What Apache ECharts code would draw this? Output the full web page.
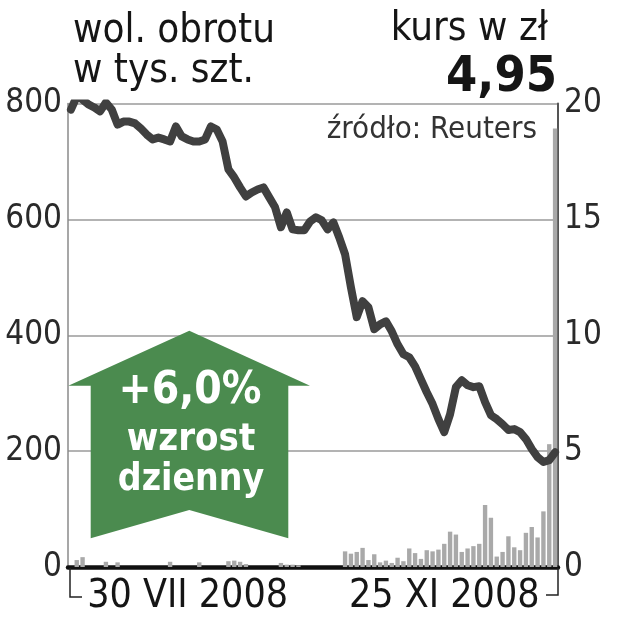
<!DOCTYPE html>
<html><head><meta charset="utf-8">
<script src="https://cdn.jsdelivr.net/npm/echarts@6/dist/echarts.min.js"></script>
<style>html,body{margin:0;padding:0;background:#fff}#c{width:636px;height:640px}</style>
</head><body><div id="c"></div>
<script>
// kurs w zł (price)
const price = [19.74,20.30,20.17,19.96,19.83,19.66,20.04,19.74,19.09,19.22,
 19.22,19.14,18.92,18.66,18.45,18.53,18.45,18.36,19.01,18.58,
 18.45,18.36,18.36,18.45,19.01,18.88,18.36,17.16,16.81,16.38,
 15.99,16.16,16.29,16.38,15.95,15.52,14.66,15.30,14.57,14.53,
 14.53,14.91,15.09,14.96,14.57,14.87,14.22,13.49,12.07,10.78,
 11.47,11.21,10.26,10.47,10.60,10.17,9.61,9.18,9.05,8.66,
 8.10,7.54,7.03,6.38,5.82,6.59,7.76,8.06,7.84,7.76,
 7.80,7.11,6.55,6.38,6.16,5.91,5.95,5.82,5.52,5.09,
 4.74,4.53,4.61,4.95];
// wolumen obrotu w tys. szt.
const volume = [0,12,17,0,0,0,9,0,8,0,
 0,0,0,0,0,0,0,9,0,0,
 0,0,8,0,0,0,0,10,11,9,
 5,0,0,0,0,0,7,4,4,3,
 0,0,0,0,0,0,0,27,23,26,
 33,12,22,8,11,7,16,10,32,24,
 14,29,27,30,40,61,56,26,32,36,
 40,107,85,18,26,53,34,29,59,69,
 51,96,212,757];
const tickLabels = ['30 VII 2008', '25 XI 2008'];
const tickIndex = [20, 64];
const volTicks = [0, 200, 400, 600, 800];
const priceTicks = [0, 5, 10, 15, 20];
const lastPrice = '4,95';
const change = '+6,0%';

const categories = price.map((_, i) => 'd' + i);
const FONT = '"DejaVu Sans Condensed", "DejaVu Sans", sans-serif';
const chart = echarts.init(document.getElementById('c'), null, {renderer: 'canvas'});
chart.setOption({
  animation: false,
  grid: {left: 68, right: 78, top: 103.5, bottom: 73},
  xAxis: {
    type: 'category', data: categories, boundaryGap: true,
    axisLine: {show: true, lineStyle: {color: '#111', width: 4.5}},
    axisTick: {show: false},
    axisLabel: {
      interval: (idx) => tickIndex.indexOf(idx) >= 0,
      formatter: (v, idx) => { const k = tickIndex.indexOf(idx); return k >= 0 ? tickLabels[k] : ''; },
      fontFamily: FONT, fontSize: 39, color: '#151515', margin: 10, lineHeight: 39
    },
    splitLine: {show: false}
  },
  yAxis: [
    {type: 'value', min: volTicks[0], max: volTicks[volTicks.length - 1], interval: 200, position: 'left',
     axisLine: {show: true, lineStyle: {color: '#8a8a8a', width: 1.5}},
     axisTick: {show: false},
     axisLabel: {fontFamily: FONT, fontSize: 33, color: '#2a2a2a', margin: 6},
     splitLine: {show: true, lineStyle: {color: '#9a9a9a', width: 1.5}}},
    {type: 'value', min: priceTicks[0], max: priceTicks[priceTicks.length - 1], interval: 5, position: 'right',
     axisLine: {show: true, lineStyle: {color: '#555', width: 2}},
     axisTick: {show: false},
     axisLabel: {fontFamily: FONT, fontSize: 33, color: '#2a2a2a', margin: 6},
     splitLine: {show: false}}
  ],
  series: [
    {type: 'bar', yAxisIndex: 0, data: volume, barWidth: '75%',
     itemStyle: {color: '#a9a9a9'}, z: 2},
    {type: 'line', yAxisIndex: 1, data: price, symbol: 'none', z: 3,
     lineStyle: {color: '#404040', width: 8, cap: 'round', join: 'round'}}
  ],
  graphic: [
    {type: 'text', x: 73, y: 32, z: 10, style: {text: 'wol. obrotu', font: '40px ' + FONT, fill: '#151515', verticalAlign: 'middle'}},
    {type: 'text', x: 73, y: 72, z: 10, style: {text: 'w tys. szt.', font: '40px ' + FONT, fill: '#151515', verticalAlign: 'middle'}},
    {type: 'text', x: 548, y: 30, z: 10, style: {text: 'kurs w zł', font: '40px ' + FONT, fill: '#151515', align: 'right', verticalAlign: 'middle'}},
    {type: 'text', x: 557, y: 78, z: 10, style: {text: lastPrice, font: 'bold 50px ' + FONT, fill: '#151515', align: 'right', verticalAlign: 'middle'}},
    {type: 'text', x: 537, y: 130, z: 10, style: {text: 'źródło: Reuters', font: '31px ' + FONT, fill: '#333', align: 'right', verticalAlign: 'middle'}},
    {type: 'polygon', z: 20, shape: {points: [[189.3,330.7],[310,385.7],[288.3,385.7],[288.3,538.3],[189.3,510],[90.7,538.3],[90.7,385.7],[68.3,385.7]]},
     style: {fill: '#4b8b4f'}},
    {type: 'text', x: 190, y: 392, z: 21, style: {text: change, font: 'bold 44px ' + FONT, fill: '#fff', align: 'center', verticalAlign: 'middle'}},
    {type: 'text', x: 191, y: 440, z: 21, style: {text: 'wzrost', font: 'bold 38px ' + FONT, fill: '#fff', align: 'center', verticalAlign: 'middle'}},
    {type: 'text', x: 191, y: 480, z: 21, style: {text: 'dzienny', font: 'bold 37px ' + FONT, fill: '#fff', align: 'center', verticalAlign: 'middle'}},
    {type: 'polyline', z: 10, shape: {points: [[70,568],[70,597],[82,597]]}, style: {stroke: '#222', lineWidth: 1.5, fill: null}},
    {type: 'polyline', z: 10, shape: {points: [[558,568],[558,595],[546,595]]}, style: {stroke: '#222', lineWidth: 1.5, fill: null}}
  ]
});
</script></body></html>
